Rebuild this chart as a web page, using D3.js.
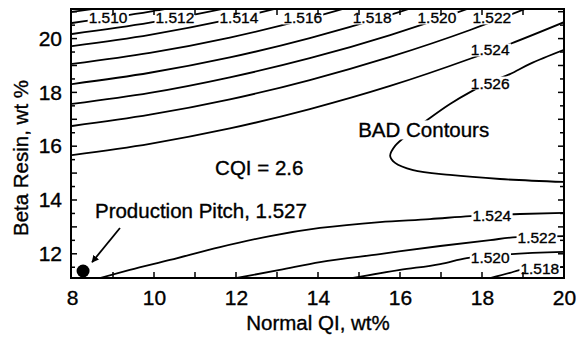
<!DOCTYPE html>
<html lang="en">
<head>
<meta charset="UTF-8">
<title>Beta Resin vs Normal QI</title>
<script src="https://cdn.jsdelivr.net/npm/d3@7"></script>
<style>
    body { margin: 0; background: #fff; }
    svg { display: block; font-family: "Liberation Sans", Arial, Helvetica, sans-serif; }
</style>
</head>
<body>
<div id="graphDiv"></div>
<script>
// tick labels
var xTicks = [8, 10, 12, 14, 16, 18, 20]
var yTicks = [12, 14, 16, 18, 20]

// upper contour family, Beta Resin read at these Normal QI values
var upperQI = [8, 9.9, 11.85, 13.8, 15.76, 17.71, 18.68, 20]
var r1508 = [20.99, 21.40]
var r1510 = [20.58, 21.00, 21.57]
var r1512 = [20.17, 20.59, 21.16, 21.88]
var r1514 = [19.72, 20.14, 20.71, 21.43]
var r1516 = [19.06, 19.47, 20.04, 20.76, 21.62]
var r1518 = [18.31, 18.73, 19.30, 20.02, 20.88, 21.88]
var r1520 = [17.57, 17.98, 18.56, 19.27, 20.13, 21.14, 21.70]
var r1522 = [16.75, 17.17, 17.74, 18.46, 19.32, 20.32, 20.88, 21.69]
var r1524 = [15.67, 16.09, 16.66, 17.38, 18.24, 19.25, 19.80, 20.61]

// 1.526 contour that folds back ("BAD Contours")
var noseQI = [20, 19.17, 18.68, 18.20, 17.71, 17.22, 16.73, 16.24, 15.88, 15.76, 15.88, 16.32, 17.22, 18.44, 20]
var noseResin = [19.58, 19.06, 18.68, 18.39, 18.01, 17.57, 17.05, 16.49, 16.01, 15.64, 15.38, 15.11, 14.93, 14.78, 14.67]

// lower contour family
var low1524QI = [8.68, 9.41, 10.39, 11.61, 12.83, 14.05, 15.51, 16.73, 17.71, 18.93, 20]
var low1524 = [11.10, 11.40, 11.77, 12.25, 12.66, 12.96, 13.18, 13.29, 13.40, 13.48, 13.52]
var low1522QI = [12.02, 13.07, 14.05, 15.51, 16.98, 18.20, 18.85, 20]
var low1522 = [11.10, 11.40, 11.69, 11.99, 12.29, 12.51, 12.62, 12.66]
var low1520QI = [14.85, 16.0, 16.98, 17.63, 18.44, 20]
var low1520 = [11.10, 11.40, 11.62, 11.84, 11.96, 12.07]
var low1518QI = [18.20, 18.68, 18.93, 19.41, 20]
var low1518 = [11.10, 11.29, 11.40, 11.47, 11.51]

// contour labels
var labelText = ["1.510", "1.512", "1.514", "1.516", "1.518", "1.520", "1.522", "1.524", "1.526", "1.524", "1.522", "1.520", "1.518"]
var labelQI = [8.88, 10.51, 12.07, 13.63, 15.32, 16.90, 18.24, 18.20, 18.20, 18.24, 19.34, 18.20, 19.41]
var labelResin = [20.77, 20.77, 20.77, 20.77, 20.77, 20.77, 20.77, 19.58, 18.35, 13.44, 12.62, 11.88, 11.47]

// production pitch point
var pitchQI = 8.27
var pitchResin = 11.36

var width = 582
var height = 339

var x = d3.scaleLinear().domain([8, 20]).range([72, 564])
var y = d3.scaleLinear().domain([11.1, 21.1]).range([278, 9])

var svg = d3.select('#graphDiv')
    .append('svg')
    .attr('width', width)
    .attr('height', height)

svg.append('defs').append('clipPath')
    .attr('id', 'plotClip')
    .append('rect')
    .attr('x', x(8) - 1).attr('y', y(21.1))
    .attr('width', x(20) - x(8) + 1).attr('height', y(11.1) - y(21.1))

svg.append('marker')
    .attr('id', 'arrow')
    .attr('viewBox', '0 0 10 10')
    .attr('refX', 9).attr('refY', 5)
    .attr('markerWidth', 4).attr('markerHeight', 4)
    .attr('orient', 'auto')
    .append('path')
    .attr('d', 'M0,0 L10,5 L0,10 Z')
    .attr('fill', '#000')

var plot = svg.append('g').attr('clip-path', 'url(#plotClip)')

// build point lists
function pts(xs, ys) {
    return ys.map((v, i) => [xs[i], v])
}
var upperSets = [r1508, r1510, r1512, r1514, r1516, r1518, r1520, r1522, r1524]
var smooth = d3.line().x(d => x(d[0])).y(d => y(d[1])).curve(d3.curveMonotoneX)
var roundLine = d3.line().x(d => x(d[0])).y(d => y(d[1])).curve(d3.curveCatmullRom.alpha(0.5))

plot.selectAll('.upper')
    .data(upperSets.map(s => pts(upperQI, s)))
    .join('path')
    .attr('class', 'upper')
    .attr('d', smooth)
    .attr('fill', 'none').attr('stroke', '#000').attr('stroke-width', 1.8)

plot.append('path')
    .attr('d', roundLine(pts(noseQI, noseResin)))
    .attr('fill', 'none').attr('stroke', '#000').attr('stroke-width', 1.8)

var lowerSets = [pts(low1524QI, low1524), pts(low1522QI, low1522), pts(low1520QI, low1520), pts(low1518QI, low1518)]
plot.selectAll('.lower')
    .data(lowerSets)
    .join('path')
    .attr('class', 'lower')
    .attr('d', smooth)
    .attr('fill', 'none').attr('stroke', '#000').attr('stroke-width', 1.8)

// text with a white box behind it, so the contour is broken there
function boxedText(g, txt, px, py, size, anchor, pad) {
    var t = g.append('text')
        .attr('x', px).attr('y', py)
        .attr('dy', '0.36em')
        .attr('text-anchor', anchor)
        .attr('font-size', size)
        .attr('fill', '#000')
        .attr('stroke', '#000').attr('stroke-width', 0.35)
        .text(txt)
    var b = t.node().getBBox()
    g.insert('rect', 'text')
        .attr('x', b.x - pad).attr('y', b.y + 2)
        .attr('width', b.width + 2 * pad).attr('height', b.height - 4)
        .attr('fill', '#fff')
    t.raise()
}

var labelGroup = svg.append('g')
labelText.forEach((d, i) => {
    boxedText(labelGroup, d, x(labelQI[i]), y(labelResin[i]), 15.5, 'middle', 1)
})

// annotations
var notes = svg.append('g')
boxedText(notes, 'BAD Contours', x(14.98), y(16.34) - 7, 20.5, 'start', 2)
boxedText(notes, 'CQI = 2.6', x(11.49), y(14.93) - 7, 20.5, 'start', 2)
boxedText(notes, 'Production Pitch, 1.527', x(8.56), y(13.33) - 7, 20.5, 'start', 2)

svg.append('line')
    .attr('x1', x(9.17)).attr('y1', y(12.96))
    .attr('x2', x(8.49)).attr('y2', y(11.69))
    .attr('stroke', '#000').attr('stroke-width', 1.8)
    .attr('marker-end', 'url(#arrow)')

svg.append('circle')
    .attr('cx', x(pitchQI)).attr('cy', y(pitchResin))
    .attr('r', 6.5)
    .attr('fill', '#000')

// frame and inside ticks
var ticks = svg.append('g').attr('stroke', '#000').attr('stroke-width', 1.5)
d3.range(9, 20, 1).forEach(v => {
    ticks.append('line').attr('x1', x(v)).attr('x2', x(v)).attr('y1', y(11.1)).attr('y2', y(11.1) - 6)
    ticks.append('line').attr('x1', x(v)).attr('x2', x(v)).attr('y1', y(21.1)).attr('y2', y(21.1) + 6)
})
d3.range(11.5, 21.01, 0.5).forEach(v => {
    var len = v % 1 === 0 ? 6 : 4
    ticks.append('line').attr('x1', x(8) - 1).attr('x2', x(8) - 1 + len).attr('y1', y(v)).attr('y2', y(v))
    ticks.append('line').attr('x1', x(20)).attr('x2', x(20) - len).attr('y1', y(v)).attr('y2', y(v))
})

svg.append('rect')
    .attr('x', x(8) - 1).attr('y', y(21.1))
    .attr('width', x(20) - x(8) + 1).attr('height', y(11.1) - y(21.1))
    .attr('fill', 'none').attr('stroke', '#000').attr('stroke-width', 2)

// axis labels
var xAxis = d3.axisBottom(x).tickValues(xTicks).tickSize(0).tickPadding(12)
svg.append('g')
    .attr('transform', 'translate(0,' + y(11.1) + ')')
    .call(xAxis)
    .call(g => g.select('.domain').remove())
    .selectAll('text')
    .attr('font-size', 21).attr('font-family', null).attr('fill', '#000')
    .attr('stroke', '#000').attr('stroke-width', 0.35)

var yAxis = d3.axisLeft(y).tickValues(yTicks).tickSize(0).tickPadding(9)
svg.append('g')
    .attr('transform', 'translate(' + (x(8) - 1) + ',0)')
    .call(yAxis)
    .call(g => g.select('.domain').remove())
    .selectAll('text')
    .attr('font-size', 21).attr('font-family', null).attr('fill', '#000')
    .attr('stroke', '#000').attr('stroke-width', 0.35)

svg.append('text')
    .attr('x', 318).attr('y', 330)
    .attr('text-anchor', 'middle')
    .attr('font-size', 20.5)
    .attr('stroke', '#000').attr('stroke-width', 0.35)
    .text('Normal QI, wt%')

svg.append('text')
    .attr('transform', 'translate(28,158) rotate(-90)')
    .attr('text-anchor', 'middle')
    .attr('font-size', 20.5)
    .attr('stroke', '#000').attr('stroke-width', 0.35)
    .text('Beta Resin, wt %')
</script>
</body>
</html>
